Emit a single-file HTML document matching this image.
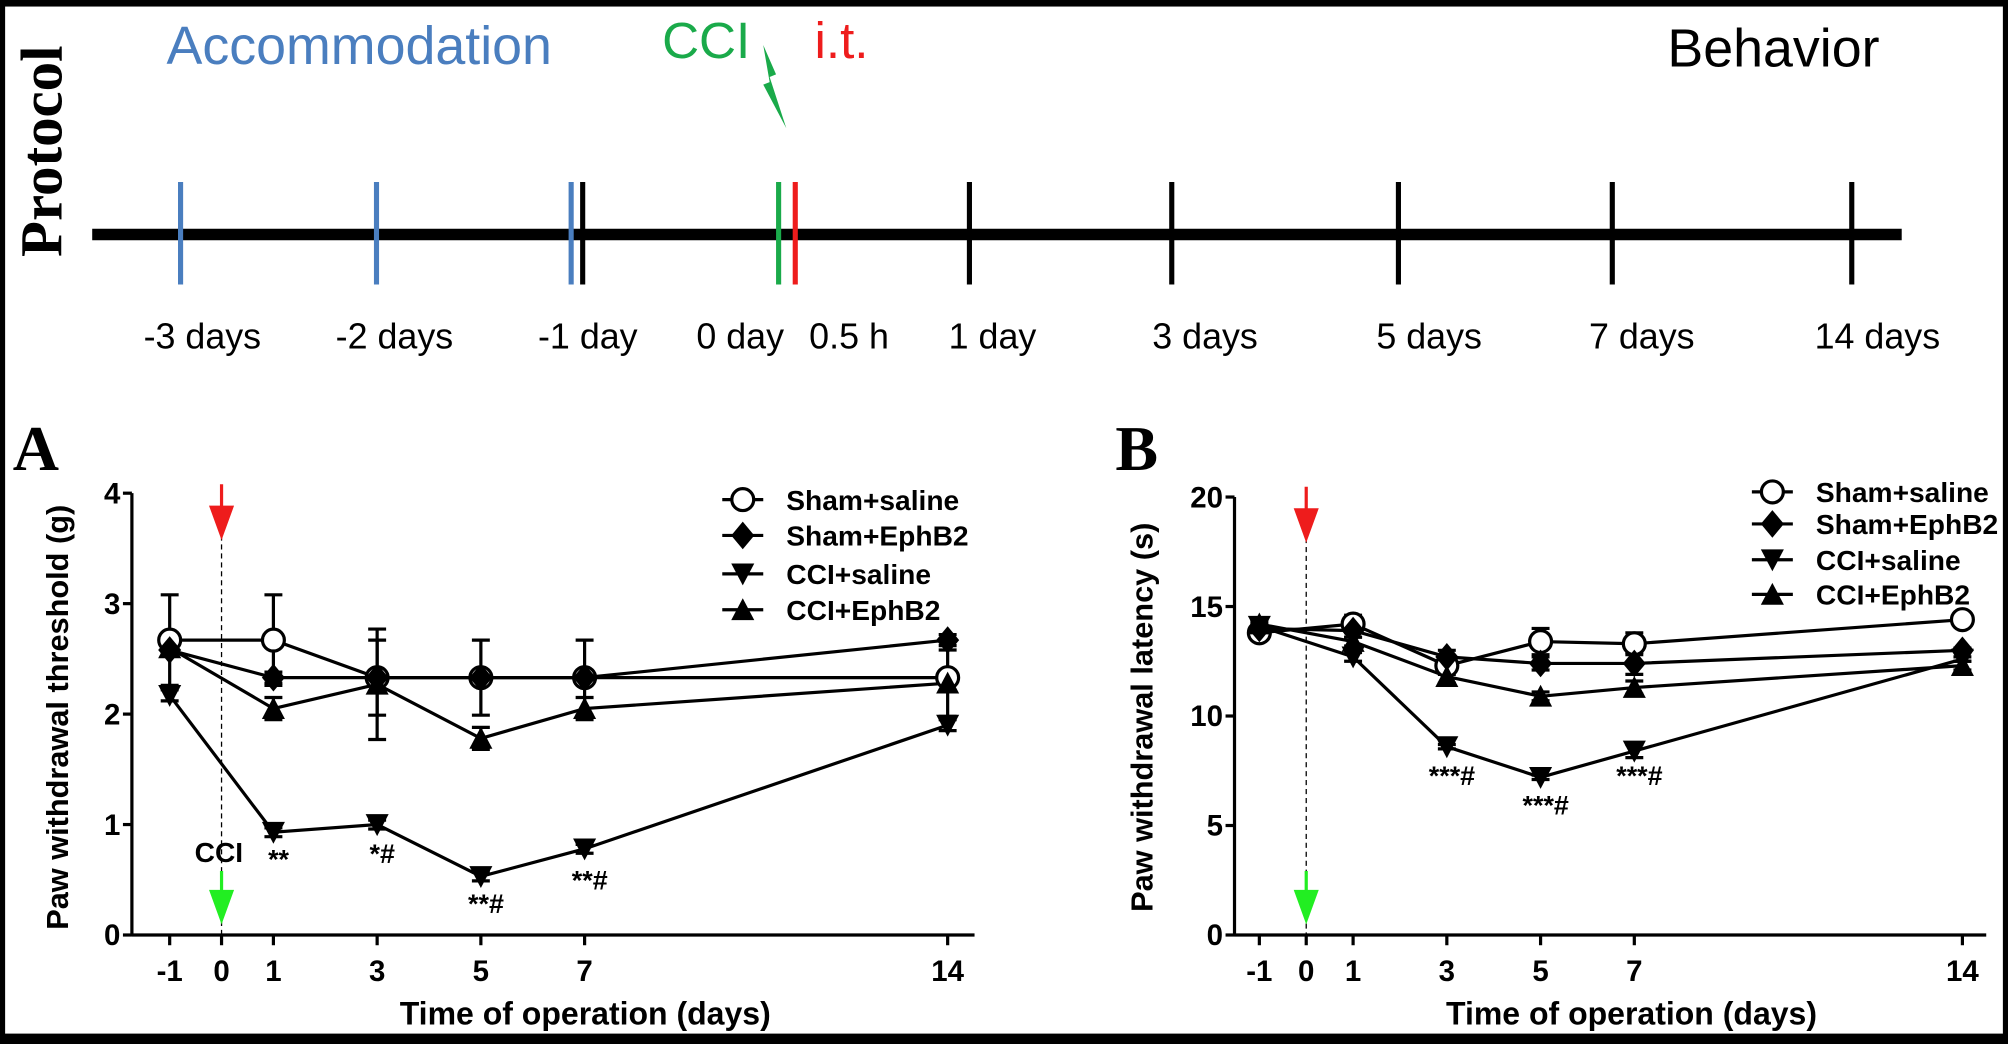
<!DOCTYPE html>
<html><head><meta charset="utf-8">
<style>
html,body{margin:0;padding:0;background:#000;}
svg{display:block;}
text{font-family:"Liberation Sans Narrow","Liberation Sans",sans-serif;}
</style></head>
<body>
<svg id="fig" width="2008" height="1044" viewBox="0 0 1568 815" xmlns="http://www.w3.org/2000/svg">
<rect x="4" y="5" width="1560" height="802" fill="#fff"/>
<g id="protocol">
<text transform="translate(48,118) rotate(-90)" text-anchor="middle" font-family="Liberation Serif" font-weight="bold" font-size="46" style="font-family:'Liberation Serif',serif">Protocol</text>
<text x="130" y="50" font-size="42" fill="#4a7ebf">Accommodation</text>
<text x="517" y="45" font-size="40" fill="#1aaa4a">CCI</text>
<text x="636" y="45" font-size="40" fill="#ee1c1c">i.t.</text>
<text x="1302" y="52" font-size="42" fill="#000">Behavior</text>
<polygon points="596,35 606,58 601,60 614,100 596,66 601,64" fill="#1aaa4a"/>
<line x1="72" y1="183" x2="1485" y2="183" stroke="#000" stroke-width="9"/>
</g>
<g id="panelA"></g>
<g id="panelB"></g>
</svg>
<script>
// Protocol timeline
const protoTickX = [141,294,446,455,608,621,757,915,1092,1259,1446];
const protoTickColor = ['#4a7ebf','#4a7ebf','#4a7ebf','#000','#1aaa4a','#ee1c1c','#000','#000','#000','#000','#000'];
const protoLabels = ['-3 days','-2 days','-1 day','0 day','0.5 h','1 day','3 days','5 days','7 days','14 days'];
const protoLabelX = [158,308,459,578,663,775,941,1116,1282,1466];

// Panel A data
const daysA = [-1,1,3,5,7,14];
const shamSalineA = [2.67,2.67,2.33,2.33,2.33,2.33];
const shamSalineErrA = [0.41,0.41,0.34,0.34,0.34,0.05];
const shamEphA = [2.58,2.33,2.33,2.33,2.33,2.67];
const shamEphErrA = [0.05,0.05,0.05,0.05,0.05,0.05];
const cciSalineA = [2.17,0.93,1.0,0.53,0.78,1.9];
const cciSalineErrA = [0.05,0.04,0.04,0.04,0.04,0.05];
const cciEphA = [2.6,2.05,2.27,1.78,2.05,2.28];
const cciEphErrA = [0.05,0.1,0.5,0.1,0.1,0.3];
const yTicksA = [0,1,2,3,4];
const xTicks = [-1,0,1,3,5,7,14];
const annotA = ['**','*#','**#','**#'];
const annotDaysA = [1,3,5,7];
const annotValsA = [0.6,0.65,0.2,0.41];

// Panel B data
const daysB = [-1,1,3,5,7,14];
const shamSalineB = [13.8,14.2,12.3,13.4,13.3,14.4];
const shamSalineErrB = [0.3,0.4,0.4,0.6,0.5,0.1];
const shamEphB = [14.0,13.9,12.7,12.4,12.4,13.0];
const shamEphErrB = [0.2,0.3,0.3,0.3,0.5,0.1];
const cciSalineB = [14.1,12.7,8.6,7.2,8.4,12.6];
const cciSalineErrB = [0.2,0.2,0.1,0.1,0.3,0.1];
const cciEphB = [14.2,13.4,11.8,10.9,11.3,12.3];
const cciEphErrB = [0.2,0.2,0.3,0.2,0.3,0.2];
const yTicksB = [0,5,10,15,20];
const annotB = ['***#','***#','***#'];
const annotDaysB = [3,5,7];
const annotValsB = [6.84,5.5,6.84];

const legendNames = ['Sham+saline','Sham+EphB2','CCI+saline','CCI+EphB2'];
const NS='http://www.w3.org/2000/svg';
function mk(tag, attrs, parent, txt){
  const e=document.createElementNS(NS,tag);
  for(const k in attrs) e.setAttribute(k,attrs[k]);
  if(txt!==undefined) e.textContent=txt;
  parent.appendChild(e); return e;
}
const proto=document.getElementById('protocol');
protoTickX.forEach((x,i)=>{
  const l=mk('line',{x1:x,y1:142,x2:x,y2:222,stroke:protoTickColor[i],'stroke-width':4},proto);
  
  
});
protoLabels.forEach((t,i)=>{
  const e=mk('text',{x:protoLabelX[i],y:272,'text-anchor':'middle','font-size':28},proto,t);
  
  
});

function marker(g,type,x,y,s){
  let e;
  if(type===0) e=mk('circle',{cx:x,cy:y,r:s*0.95,fill:'#fff',stroke:'#000','stroke-width':2.5},g);
  else if(type===1) e=mk('polygon',{points:`${x},${y-s*1.2} ${x+s},${y} ${x},${y+s*1.2} ${x-s},${y}`,fill:'#000'},g);
  else if(type===2) e=mk('polygon',{points:`${x-s},${y-s*0.9} ${x+s},${y-s*0.9} ${x},${y+s}`,fill:'#000'},g);
  else e=mk('polygon',{points:`${x-s},${y+s*0.9} ${x+s},${y+s*0.9} ${x},${y-s}`,fill:'#000'},g);
  
  
}

function panel(cfg){
  const g=document.getElementById(cfg.id);
  const X=d=>cfg.x0+cfg.dx*d;
  const Y=v=>cfg.yb-(v-cfg.ymin)/(cfg.ymax-cfg.ymin)*(cfg.yb-cfg.yt);
  const lt=mk('text',{x:cfg.letterX,y:367,'font-size':50,'font-weight':'bold',style:"font-family:'Liberation Serif',serif"},g,cfg.letter);
  
  
  const ya=mk('line',{x1:cfg.ax,y1:cfg.yt,x2:cfg.ax,y2:cfg.yb+1,stroke:'#000','stroke-width':2.5},g);
  
  
  const xa=mk('line',{x1:cfg.ax,y1:cfg.yb,x2:cfg.xend,y2:cfg.yb,stroke:'#000','stroke-width':2.5},g);
  
  
  cfg.yTicks.forEach(v=>{
    const t=mk('line',{x1:cfg.ax-7,y1:Y(v),x2:cfg.ax,y2:Y(v),stroke:'#000','stroke-width':2.5},g);
    
    
    const l=mk('text',{x:cfg.ax-9,y:Y(v)+8,'text-anchor':'end','font-size':23,'font-weight':'bold'},g,v);
    
    
  });
  xTicks.forEach(d=>{
    const t=mk('line',{x1:X(d),y1:cfg.yb,x2:X(d),y2:cfg.yb+8,stroke:'#000','stroke-width':2.5},g);
    
    
    const l=mk('text',{x:X(d),y:cfg.yb+36,'text-anchor':'middle','font-size':23,'font-weight':'bold'},g,d);
    
    
  });
  const xt=mk('text',{x:cfg.xTitleX,y:800,'text-anchor':'middle','font-size':25,'font-weight':'bold'},g,'Time of operation (days)');
  
  
  const yt=mk('text',{transform:`translate(${cfg.yTitleX},560) rotate(-90)`,'text-anchor':'middle','font-size':24,'font-weight':'bold'},g,cfg.yTitle);
  
  
  const x0=X(0);
  const dl=mk('line',{x1:x0,y1:cfg.redY+40,x2:x0,y2:cfg.yb,stroke:'#000','stroke-width':1,'stroke-dasharray':'4,3'},g);
  
  
  const ra=mk('path',{d:`M${x0} ${cfg.redY} L${x0} ${cfg.redY+22} M${x0-8} ${cfg.redY+18} L${x0} ${cfg.redY+40} L${x0+8} ${cfg.redY+18} Z`,stroke:'#ee1c1c','stroke-width':2.5,fill:'#ee1c1c'},g);
  
  
  const ga=mk('path',{d:`M${x0} 680 L${x0} 700 M${x0-8} 696 L${x0} 718 L${x0+8} 696 Z`,stroke:'#22ee22','stroke-width':2.5,fill:'#22ee22'},g);
  
  
  if(cfg.cciLabel){
    const c=mk('text',{x:152,y:673,'font-size':22,'font-weight':'bold'},g,'CCI');
    
    
  }
  cfg.series.forEach((s,si)=>{
    const sg=mk('g',{},g);
    
    
    const pts=cfg.days.map((d,i)=>X(d)+','+Y(s.v[i])).join(' ');
    const pl=mk('polyline',{points:pts,fill:'none',stroke:'#000','stroke-width':2.5},sg);
    
    
    cfg.days.forEach((d,i)=>{
      const x=X(d), y1=Y(s.v[i]+s.e[i]), y2=Y(s.v[i]-s.e[i]);
      const eb=mk('path',{d:`M${x} ${y1} L${x} ${y2} M${x-7} ${y1} L${x+7} ${y1} M${x-7} ${y2} L${x+7} ${y2}`,stroke:'#000','stroke-width':2.5,fill:'none'},sg);
      
      
    });
  });
  cfg.series.forEach((s,si)=>{
    cfg.days.forEach((d,i)=>marker(g,si,X(d),Y(s.v[i]),9));
  });
  cfg.annot.forEach((t,i)=>{
    const a=mk('text',{x:X(cfg.annotDays[i])+4,y:Y(cfg.annotVals[i]),'text-anchor':'middle','font-size':21,'font-weight':'bold'},g,t);
    
    
  });
  legendNames.forEach((n,i)=>{
    const y=cfg.legY[i];
    const lg=mk('g',{},g);
    
    
    const ll=mk('line',{x1:cfg.legX-16,y1:y,x2:cfg.legX+16,y2:y,stroke:'#000','stroke-width':2.5},lg);
    
    
    marker(lg,i,cfg.legX,y,9);
    const lt2=mk('text',{x:cfg.legX+34,y:y+8,'font-size':22,'font-weight':'bold'},lg,n);
    
    
  });
}

panel({id:'panelA',letter:'A',letterX:10,ax:103,xend:761,x0:173,dx:40.5,yt:385,yb:730,ymin:0,ymax:4,
  yTicks:yTicksA,days:daysA,yTitle:'Paw withdrawal threshold (g)',yTitleX:53,xTitleX:457,redY:378,cciLabel:true,
  series:[{v:shamSalineA,e:shamSalineErrA},{v:shamEphA,e:shamEphErrA},{v:cciSalineA,e:cciSalineErrA},{v:cciEphA,e:cciEphErrA}],
  annot:annotA,annotDays:annotDaysA,annotVals:annotValsA,legX:580,legY:[390,418,448,476]});
panel({id:'panelB',letter:'B',letterX:871,ax:964,xend:1551,x0:1020,dx:36.6,yt:388,yb:730,ymin:0,ymax:20,
  yTicks:yTicksB,days:daysB,yTitle:'Paw withdrawal latency (s)',yTitleX:900,xTitleX:1274,redY:380,cciLabel:false,
  series:[{v:shamSalineB,e:shamSalineErrB},{v:shamEphB,e:shamEphErrB},{v:cciSalineB,e:cciSalineErrB},{v:cciEphB,e:cciEphErrB}],
  annot:annotB,annotDays:annotDaysB,annotVals:annotValsB,legX:1384,legY:[384,409,437,464]});
</script>
</body></html>
